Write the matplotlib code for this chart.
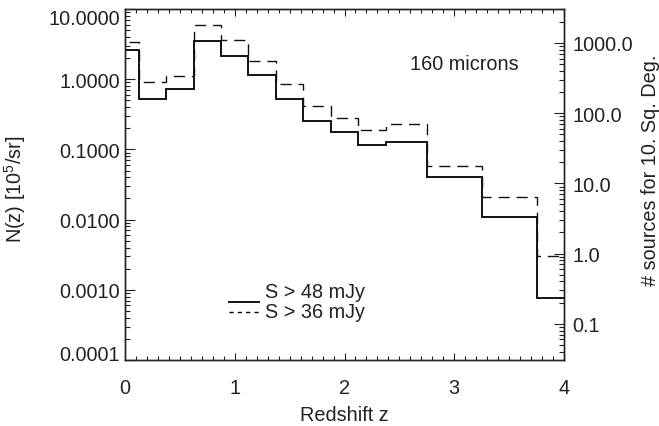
import matplotlib
matplotlib.use("Agg")
import matplotlib.pyplot as plt
from matplotlib.ticker import (FormatStrFormatter, NullFormatter, LogLocator,
                               MultipleLocator, FixedLocator)

plt.rcParams['font.family'] = ['Liberation Sans', 'DejaVu Sans']
plt.rcParams['mathtext.fontset'] = 'custom'
plt.rcParams['mathtext.rm'] = 'Liberation Sans'
plt.rcParams['mathtext.default'] = 'regular'

# bin edges in redshift (IDL psym=10 style, centres 0..2.25 step .25, then 2.5, 3, 3.5, 4)
z_edges = [-0.125, 0.125, 0.375, 0.625, 0.875, 1.125, 1.375, 1.625, 1.875,
           2.125, 2.375, 2.75, 3.25, 3.75, 4.25]
# N(z) in 10^5 / sr
n_48mjy = [2.6, 0.53, 0.725, 3.53, 2.16, 1.14, 0.52, 0.251, 0.175, 0.117,
           0.129, 0.0408, 0.011, 0.00076]
n_36mjy = [3.35, 0.90, 1.12, 5.97, 3.58, 1.82, 0.846, 0.42, 0.283, 0.189,
           0.228, 0.0586, 0.0212, 0.00306]

left_ticks = [1e-4, 1e-3, 1e-2, 1e-1, 1, 10]
legend_labels = ["S > 48 mJy", "S > 36 mJy"]

# 10 sq. deg in sr, times 1e5
SR_10DEG = 1e5 * 10 * (3.141592653589793 / 180.0) ** 2

txt = '#222222'
fs = 14.3

fig = plt.figure(figsize=(6.59, 4.27), dpi=100)
ax = fig.add_axes([125 / 659, 66 / 427, 439 / 659, 351 / 427])

ax.stairs(n_48mjy, z_edges, baseline=None, color='black', lw=1.3)
ax.stairs(n_36mjy, z_edges, baseline=None, color='#111111', lw=1.0,
          linestyle=(0, (8, 5)))

ax.set_yscale('log')
ax.set_xlim(0, 4)
ax.set_ylim(1e-4, 10)

ax.xaxis.set_major_locator(MultipleLocator(1))
ax.xaxis.set_minor_locator(MultipleLocator(0.1))
ax.yaxis.set_major_locator(FixedLocator(left_ticks))
ax.yaxis.set_minor_locator(LogLocator(base=10, subs=range(2, 10)))
ax.yaxis.set_major_formatter(FormatStrFormatter('%.4f'))
ax.yaxis.set_minor_formatter(NullFormatter())

ax.tick_params(axis='both', which='both', direction='in', colors=txt,
               labelsize=fs, labelcolor=txt)
ax.tick_params(axis='x', which='both', top=True, pad=13)
ax.tick_params(axis='x', which='major', length=5, width=0.8)
ax.tick_params(axis='x', which='minor', length=3, width=0.8)
ax.tick_params(axis='y', which='major', length=7, width=0.8)
ax.tick_params(axis='y', which='minor', length=3.5, width=0.8)
for s in ax.spines.values():
    s.set_linewidth(1.0)
    s.set_color(txt)

# IDL keeps the end labels inside the axis range
yt = ax.yaxis.get_major_ticks()
yt[0].label1.set_va('baseline')
yt[-1].label1.set_va('top')

ax.set_xlabel('Redshift z', fontsize=fs, color=txt, labelpad=6)
ax.set_ylabel('N(z) [10$^{5}$/sr]', fontsize=fs, color=txt)
ax.yaxis.set_label_coords(-0.222, 0.49)

# right-hand axis: number of sources in 10 square degrees
ax2 = ax.twinx()
ax2.set_yscale('log')
ax2.set_ylim(1e-4 * SR_10DEG, 10 * SR_10DEG)
ax2.yaxis.set_major_locator(LogLocator(base=10))
ax2.yaxis.set_minor_locator(LogLocator(base=10, subs=range(2, 10)))
ax2.yaxis.set_major_formatter(FormatStrFormatter('%.1f'))
ax2.yaxis.set_minor_formatter(NullFormatter())
ax2.tick_params(axis='y', which='both', direction='in', colors=txt,
                labelsize=fs, labelcolor=txt, pad=6)
ax2.tick_params(axis='y', which='major', length=7, width=0.8)
ax2.tick_params(axis='y', which='minor', length=3.5, width=0.8)
ax2.set_ylabel('# sources for 10. Sq. Deg.', fontsize=fs, color=txt)
ax2.yaxis.set_label_coords(1.175, 0.544)
for s in ax2.spines.values():
    s.set_linewidth(1.0)
    s.set_color(txt)

ax.text(0.65, 0.844, '160 microns', transform=ax.transAxes, fontsize=fs,
        color=txt, va='center', ha='left')

# IDL-style legend
ax.plot([0.237, 0.305], [0.166, 0.166], transform=ax.transAxes,
        color='black', lw=1.3)
ax.plot([0.237, 0.305], [0.137, 0.137], transform=ax.transAxes,
        color='black', lw=1.0, linestyle=(0, (3, 3)))
ax.text(0.318, 0.194, legend_labels[0], transform=ax.transAxes, fontsize=fs,
        color=txt, va='center', ha='left')
ax.text(0.318, 0.137, legend_labels[1], transform=ax.transAxes, fontsize=fs,
        color=txt, va='center', ha='left')

fig.savefig('out.png', dpi=100)
